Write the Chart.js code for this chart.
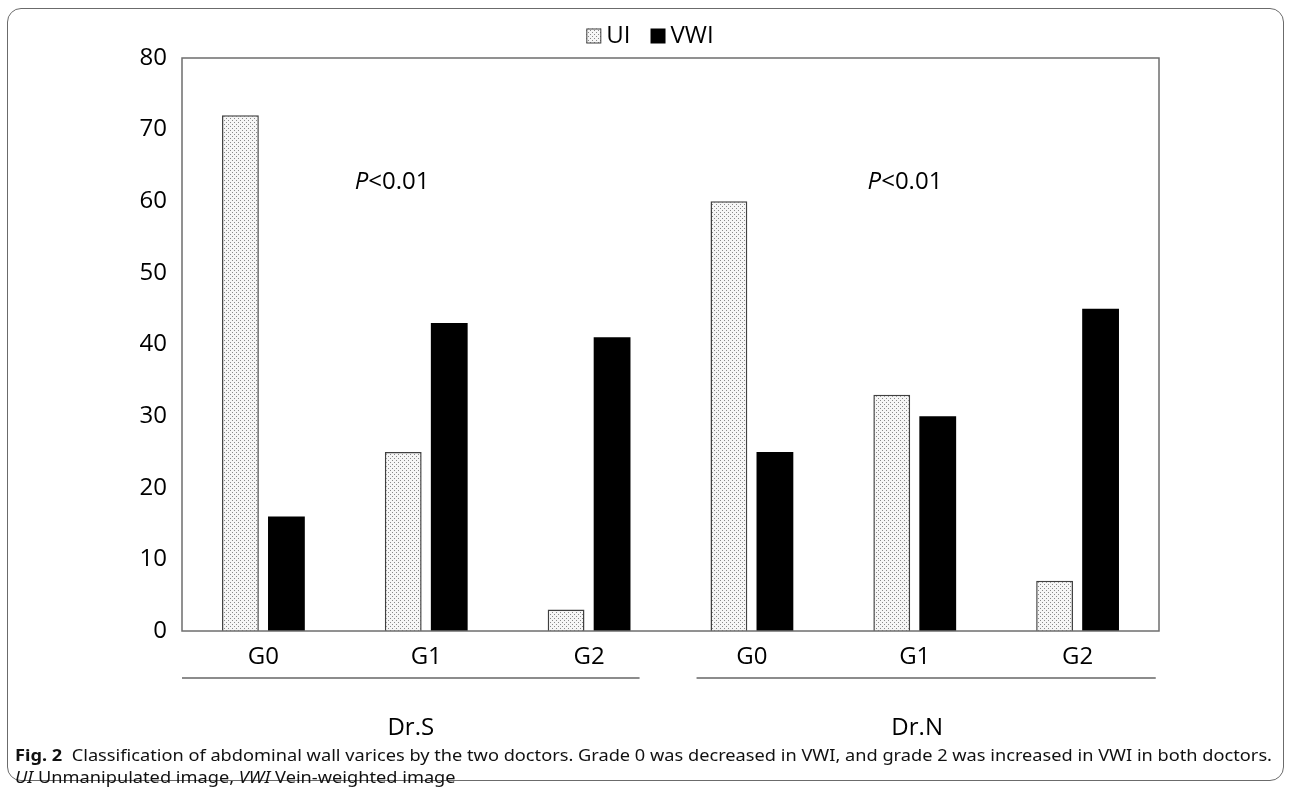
<!DOCTYPE html>
<html>
<head>
<meta charset="utf-8">
<script src="https://cdn.jsdelivr.net/npm/chart.js@4.4.1/dist/chart.umd.min.js"></script>
<style>
  html, body { margin: 0; padding: 0; background: #fff; }
  #wrap { position: relative; width: 1292px; height: 787px; overflow: hidden; }
  #frame { position: absolute; left: 7px; top: 8px; width: 1277px; height: 773px;
           border: 1.5px solid #6b6b6b; border-radius: 14px; box-sizing: border-box; }
  canvas { position: absolute; left: 0; top: 0; }
  #caption { position: absolute; left: 15px; top: 744px; font-family: "Noto Sans", sans-serif;
             font-size: 16px; line-height: 22px; color: #111; white-space: nowrap; }
  #caption div { transform-origin: 0 0; display: inline-block; }
</style>
</head>
<body>
<div id="wrap">
  <div id="frame"></div>
  <canvas id="c" width="1292" height="787"></canvas>
  <div id="caption">
    <div id="cap1"><b>Fig. 2</b>&nbsp; Classification of abdominal wall varices by the two doctors. Grade 0 was decreased in VWI, and grade 2 was increased in VWI in both doctors.</div><br>
    <div id="cap2"><i>UI</i> Unmanipulated image, <i>VWI</i> Vein-weighted image</div>
  </div>
</div>
<script>
const categories = ["G0", "G1", "G2", "G0", "G1", "G2"];
const uiValues = [72, 25, 3, 60, 33, 7];
const vwiValues = [16, 43, 41, 25, 30, 45];
const seriesNames = ["UI", "VWI"];
const groupNames = ["Dr.S", "Dr.N"];
const pLabels = ["<0.01", "<0.01"];
const yTicks = [0, 10, 20, 30, 40, 50, 60, 70, 80];

const FONT = '"Open Sans", sans-serif';

// dotted pattern
function makePattern() {
  const t = document.createElement('canvas');
  t.width = 4; t.height = 4;
  const g = t.getContext('2d');
  g.fillStyle = '#f6f6f6';
  g.fillRect(0, 0, 4, 4);
  g.fillStyle = '#8a8a8a';
  g.fillRect(0, 0, 1, 1);
  g.fillRect(2, 2, 1, 1);
  return g.createPattern(t, 'repeat');
}
const ctx0 = document.getElementById('c').getContext('2d');
const pattern = makePattern();

const decorPlugin = {
  id: 'decor',
  afterDatasetsDraw(chart) {
    const ctx = chart.ctx;
    const a = chart.chartArea;
    const xs = chart.scales.x;
    const ys = chart.scales.y;
    const step = xs.getPixelForValue(1) - xs.getPixelForValue(0);
    ctx.save();
    // plot frame
    ctx.strokeStyle = '#6e6e6e';
    ctx.lineWidth = 1.5;
    ctx.strokeRect(a.left, a.top, a.right - a.left, a.bottom - a.top);

    // group lines
    ctx.strokeStyle = '#8c8c8c';
    ctx.lineWidth = 2;
    const lineY = 678;
    const g1s = xs.getPixelForValue(0) - step / 2;
    const g1e = xs.getPixelForValue(2) + step * 0.31;
    const g2s = xs.getPixelForValue(3) - step * 0.34;
    const g2e = xs.getPixelForValue(5) + step * 0.48;
    ctx.beginPath();
    ctx.moveTo(g1s, lineY); ctx.lineTo(g1e, lineY);
    ctx.moveTo(g2s, lineY); ctx.lineTo(g2e, lineY);
    ctx.stroke();

    // group labels
    ctx.fillStyle = '#000';
    ctx.font = '24px ' + FONT;
    ctx.textAlign = 'center';
    ctx.textBaseline = 'middle';
    ctx.fillText(groupNames[0], (g1s + g1e) / 2, 728);
    ctx.fillText(groupNames[1], (g2s + g2e) / 2 - 9, 728);

    // P labels
    const py = ys.getPixelForValue(62.6);
    const pxs = [xs.getPixelForValue(0) + step * 0.79, xs.getPixelForValue(3) + step * 0.94];
    pxs.forEach((cx, i) => {
      ctx.font = 'italic 24px ' + FONT;
      const w1 = ctx.measureText('P').width;
      ctx.font = '24px ' + FONT;
      const w2 = ctx.measureText(pLabels[i]).width;
      let x = cx - (w1 + w2) / 2;
      ctx.textAlign = 'left';
      ctx.font = 'italic 24px ' + FONT;
      ctx.fillText('P', x, py);
      ctx.font = '24px ' + FONT;
      ctx.fillText(pLabels[i], x + w1, py);
    });

    // legend
    ctx.font = '24px ' + FONT;
    const box = 15, gapT = 5, gapI = 20;
    const wU = ctx.measureText(seriesNames[0]).width;
    const wV = ctx.measureText(seriesNames[1]).width;
    const total = box + gapT + wU + gapI + box + gapT + wV;
    let lx = 650 - total / 2;
    const ly = 36;
    ctx.fillStyle = pattern;
    ctx.fillRect(lx, ly - box / 2, box, box);
    ctx.strokeStyle = '#404040';
    ctx.lineWidth = 1;
    ctx.strokeRect(lx + 0.5, ly - box / 2 + 0.5, box - 1, box - 1);
    ctx.fillStyle = '#000';
    ctx.textAlign = 'left';
    ctx.fillText(seriesNames[0], lx + box + gapT, ly);
    lx += box + gapT + wU + gapI;
    ctx.fillRect(lx, ly - box / 2, box, box);
    ctx.fillText(seriesNames[1], lx + box + gapT, ly);
    ctx.restore();
  }
};

new Chart(ctx0, {
  type: 'bar',
  data: {
    labels: categories,
    datasets: [
      { label: seriesNames[0], data: uiValues, backgroundColor: pattern,
        borderColor: '#404040', borderWidth: 1.5, categoryPercentage: 0.565, barPercentage: 0.8 },
      { label: seriesNames[1], data: vwiValues, backgroundColor: '#000',
        borderColor: '#000', borderWidth: 0, categoryPercentage: 0.565, barPercentage: 0.8 }
    ]
  },
  options: {
    responsive: false,
    animation: false,
    devicePixelRatio: 1,
    layout: { padding: { top: 58, right: 133, left: 0, bottom: 0 } },
    plugins: { legend: { display: false }, tooltip: { enabled: false } },
    scales: {
      x: {
        grid: { display: false, drawTicks: false },
        border: { display: false },
        ticks: { color: '#000', font: { family: FONT, size: 24 }, padding: 12 },
        afterFit(s) { s.height = 156; }
      },
      y: {
        min: 0, max: 80,
        afterBuildTicks(s) { s.ticks = yTicks.map(v => ({ value: v })); },
        grid: { display: false, drawTicks: false },
        border: { display: false },
        ticks: { color: '#000', font: { family: FONT, size: 24 }, padding: 15 },
        afterFit(s) { s.width = 182; }
      }
    }
  },
  plugins: [decorPlugin]
});

// fit caption widths: same horizontal scale for both lines
const c1 = document.getElementById('cap1');
const c2 = document.getElementById('cap2');
const r1 = c1.getBoundingClientRect().width;
if (r1 > 0) {
  const k = 1257 / r1;
  c1.style.transform = 'scaleX(' + k + ')';
  c2.style.transform = 'scaleX(' + k + ')';
}
</script>
</body>
</html>
